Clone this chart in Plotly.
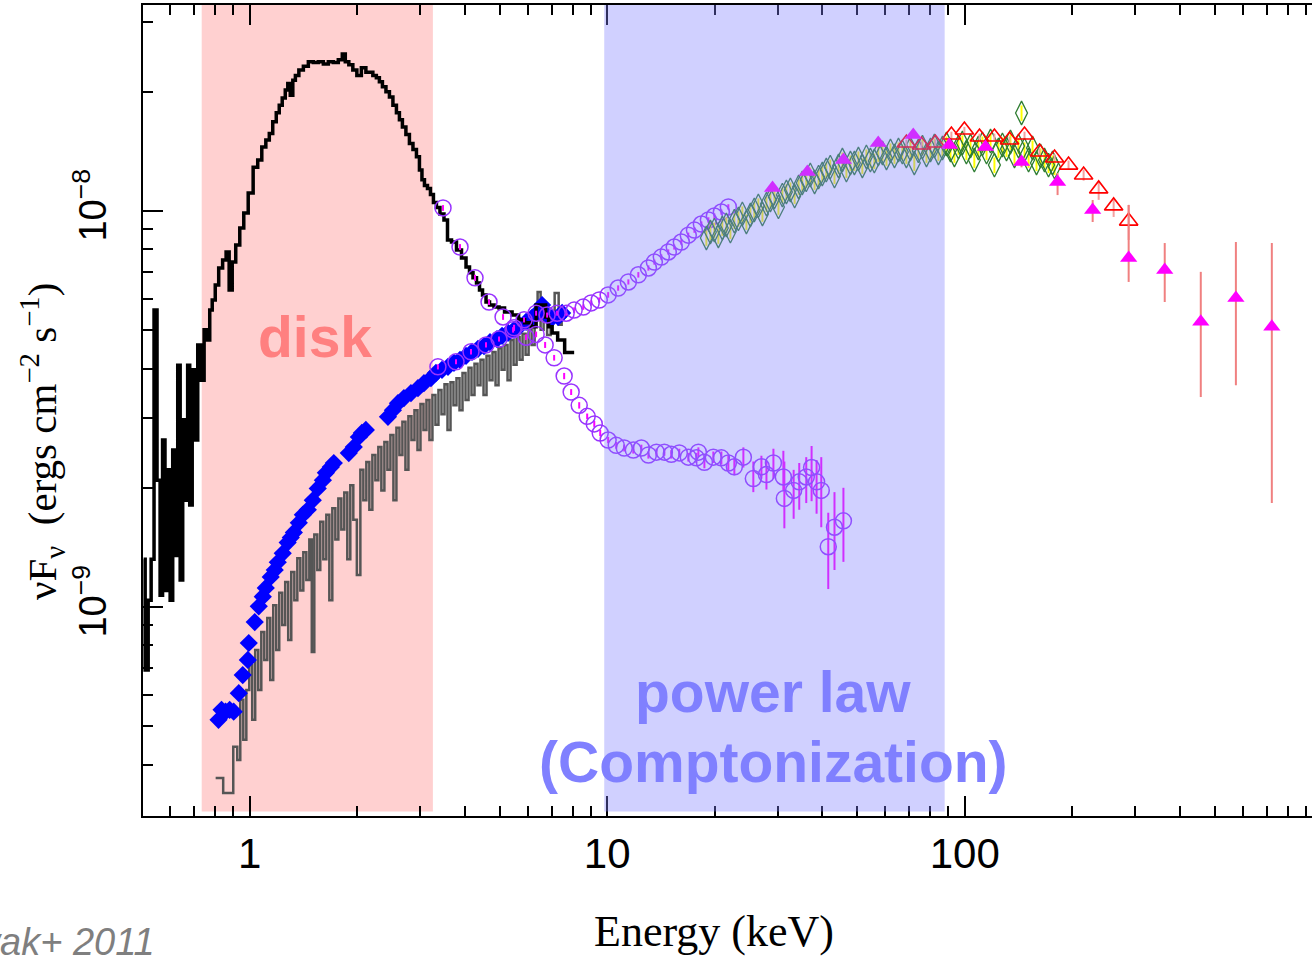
import plotly.graph_objects as go

SCALE = 1e-9  # flux lists are in units of 1e-9 ergs cm^-2 s^-1

# ---------------- soft state, low energy (black histogram) ----------------
soft_lo_E = [0.505, 0.515, 0.525, 0.535, 0.545, 0.556, 0.567, 0.574, 0.585, 0.593,
             0.605, 0.613, 0.625, 0.633, 0.645, 0.654, 0.666, 0.675, 0.684, 0.697,
             0.711, 0.720, 0.738, 0.753, 0.768, 0.778, 0.793, 0.809, 0.829, 0.851,
             0.867, 0.885, 0.902, 0.926, 0.950, 0.975, 1.006, 1.039, 1.067, 1.095,
             1.124, 1.145, 1.175, 1.198, 1.221, 1.245, 1.270, 1.286, 1.311, 1.329,
             1.355, 1.390, 1.436, 1.482, 1.531, 1.581, 1.633, 1.686, 1.741, 1.798,
             1.833, 1.869, 1.918, 1.968, 2.020, 2.086, 2.141, 2.182, 2.239, 2.283,
             2.328, 2.374, 2.436, 2.483, 2.548, 2.598, 2.648, 2.700, 2.770, 2.825,
             2.899, 2.955, 3.013, 3.052, 3.112, 3.173, 3.234, 3.297, 3.361, 3.450,
             3.540, 3.610, 3.727, 3.850, 3.976, 4.080, 4.159, 4.268, 4.351, 4.436,
             4.523, 4.641, 4.732, 4.918, 5.047, 5.280, 5.561, 5.742, 6.007, 6.245,
             6.408, 6.661, 6.792, 6.924, 7.105, 7.433, 7.776, 8.083]
soft_lo_F = [1.32, 0.693, 1.04, 1.32, 5.62, 2.09, 1.07, 2.64, 1.10, 2.22,
             1.04, 2.49, 1.35, 4.08, 1.17, 2.97, 1.86, 4.08, 1.81, 3.97,
             2.64, 4.59, 3.74, 5.01, 4.72, 5.62, 5.96, 6.50, 7.18, 7.52,
             7.88, 6.32, 7.43, 8.21, 9.06, 9.88, 11.1, 12.9, 13.45, 14.5,
             15.1, 15.7, 16.8, 17.7, 18.5, 19.3, 20.2, 21.0, 19.6, 21.4,
             22.0, 22.7, 23.2, 23.8, 23.7, 23.8, 23.5, 23.8, 23.7, 24.1,
             24.9, 23.8, 23.4, 22.7, 22.0, 23.0, 22.4, 22.4, 22.0, 21.7,
             21.2, 20.6, 20.0, 19.4, 18.5, 17.7, 17.0, 16.3, 15.6, 14.8,
             14.3, 13.7, 12.7, 12.0, 11.6, 11.4, 11.0, 10.5, 10.2, 9.83,
             9.49, 8.45, 8.35, 7.97, 7.61, 7.22, 6.98, 6.78, 6.58, 6.32,
             6.14, 5.89, 5.79, 5.72, 5.69, 5.56, 5.46, 5.31, 5.22, 5.10,
             5.79, 5.79, 5.40, 5.10, 4.92, 4.72, 4.39, 4.39]

# ---------------- hard state, low energy (grey histogram) ----------------
hard_lo_E = [0.803, 0.885, 0.914, 0.932, 0.950, 0.969, 0.988, 1.0065, 1.026, 1.046,
             1.067, 1.088, 1.109, 1.131, 1.152, 1.175, 1.198, 1.221, 1.245, 1.269,
             1.294, 1.320, 1.346, 1.372, 1.399, 1.426, 1.454, 1.482, 1.501, 1.531,
             1.560, 1.591, 1.622, 1.654, 1.686, 1.719, 1.753, 1.787, 1.821, 1.857,
             1.893, 1.930, 1.968, 2.020, 2.059, 2.099, 2.140, 2.182, 2.225, 2.268,
             2.312, 2.358, 2.404, 2.451, 2.499, 2.548, 2.598, 2.648, 2.700, 2.753,
             2.806, 2.862, 2.918, 2.975, 3.033, 3.092, 3.152, 3.213, 3.276, 3.340,
             3.405, 3.473, 3.540, 3.610, 3.680, 3.751, 3.825, 3.900, 3.976, 4.054,
             4.133, 4.213, 4.295, 4.379, 4.465, 4.552, 4.641, 4.732, 4.824, 4.919,
             5.015, 5.113, 5.212, 5.314, 5.419, 5.525, 5.633, 5.742, 5.854, 5.969,
             6.085, 6.205, 6.326, 6.450, 6.575, 6.704, 6.879, 7.014, 7.244, 7.386,
             7.530]
hard_lo_F = [0.370, 0.339, 0.444, 0.411, 0.583, 0.462, 0.617, 0.714, 0.519, 0.779,
             0.617, 0.865, 0.735, 0.938, 0.654, 1.010, 0.779, 1.087, 0.900, 1.156,
             0.825, 1.226, 1.04, 1.327, 1.10, 1.374, 1.17, 1.48, 0.770, 1.525,
             1.24, 1.641, 1.32, 1.709, 1.04, 1.775, 1.48, 1.880, 1.57, 1.947,
             1.32, 2.030, 1.66, 1.204, 2.22, 1.86, 2.323, 1.76, 2.419, 2.09,
             2.535, 1.97, 2.609, 2.22, 2.720, 1.86, 2.835, 2.419, 2.936, 2.22,
             3.032, 2.64, 3.14, 2.49, 3.254, 2.80, 3.33, 2.64, 3.429, 2.885,
             3.53, 3.068, 3.654, 2.80, 3.697, 3.234, 3.784, 3.14, 3.901, 3.33,
             4.017, 3.429, 4.113, 3.633, 4.21, 3.429, 4.307, 3.74, 4.408, 3.633,
             4.505, 3.97, 4.585, 3.74, 4.72, 4.089, 4.803, 4.21, 4.895, 4.332,
             5.01, 4.585, 5.31, 6.247, 5.01, 5.459, 4.866, 5.372, 6.211, 5.158,
             5.372]

# ---------------- hard state, unfolded low energy (blue diamonds) ----------------
blue_E = [0.818, 0.834, 0.856, 0.879, 0.902, 0.932, 0.956, 0.988, 0.994, 1.033,
          1.060, 1.088, 1.109, 1.145, 1.175, 1.198, 1.237, 1.277, 1.303, 1.329,
          1.372, 1.408, 1.454, 1.501, 1.550, 1.602, 1.633, 1.686, 1.719, 1.893,
          1.955, 2.020, 2.059, 2.113, 2.436, 2.515, 2.598, 2.700, 2.825, 2.955,
          3.072, 3.213, 3.318, 3.450, 3.586, 3.727, 3.875, 4.028, 4.186, 4.351,
          4.523, 4.701, 4.918, 5.080, 5.280, 5.489, 5.705, 5.930, 6.165, 6.408,
          6.575, 6.792, 7.014, 7.291, 7.481]
blue_F = [0.519, 0.550, 0.544, 0.550, 0.544, 0.606, 0.673, 0.735, 0.811, 0.916,
          1.004, 1.062, 1.117, 1.191, 1.24, 1.297, 1.366, 1.454, 1.497, 1.543,
          1.631, 1.709, 1.76, 1.86, 1.993, 2.09, 2.182, 2.256, 2.309, 2.447,
          2.535, 2.687, 2.752, 2.80, 3.022, 3.14, 3.272, 3.369, 3.469, 3.570,
          3.675, 3.784, 3.901, 3.97, 4.040, 4.137, 4.21, 4.307, 4.408, 4.486,
          4.558, 4.665, 4.748, 4.838, 4.923, 5.01, 5.128, 5.248, 5.372, 5.555,
          5.789, 5.459, 5.372, 5.40, 5.53]

# ---------------- soft state, high energy (purple circles) ----------------
soft_hi_E = [3.473, 3.875, 4.268, 4.671, 5.113, 5.489, 5.930, 6.326, 6.704, 7.105,
             7.578, 7.928, 8.35, 8.79, 9.20, 9.56, 10.06, 10.60, 11.16, 11.83,
             12.46, 13.04, 13.73, 14.45, 15.11, 15.91, 16.86, 17.76, 17.99, 18.70,
             19.81, 20.86, 21.82, 22.68, 24.04, 25.63, 27.0, 27.89, 29.17, 31.10,
             31.30, 33.23, 34.45, 36.04, 37.3, 38.52, 39.7, 41.53, 43.23, 45.79]
soft_hi_F = [10.18, 8.11, 6.78, 5.89, 5.40, 5.07, 4.80, 4.88, 4.59, 4.26,
             3.83, 3.49, 3.23, 3.03, 2.90, 2.75, 2.64, 2.56, 2.52, 2.49,
             2.52, 2.42, 2.46, 2.46, 2.43, 2.45, 2.39, 2.38, 2.46, 2.32,
             2.39, 2.38, 2.31, 2.26, 2.39, 2.11, 2.26, 2.16, 2.31, 2.13,
             1.88, 1.97, 2.07, 2.13, 2.25, 2.07, 1.97, 1.42, 1.59, 1.65]
soft_hi_errp = [0.17, 0.14, 0.12, 0.10, 0.09, 0.09, 0.08, 0.08, 0.08, 0.07,
                0.07, 0.06, 0.06, 0.05, 0.05, 0.05, 0.05, 0.05, 0.05, 0.05,
                0.05, 0.05, 0.05, 0.05, 0.06, 0.06, 0.06, 0.07, 0.07, 0.08,
                0.08, 0.09, 0.10, 0.11, 0.14, 0.22, 0.15, 0.18, 0.20, 0.35,
                0.45, 0.25, 0.24, 0.26, 0.30, 0.28, 0.42, 0.31, 0.36, 0.35]
soft_hi_errm = [0.17, 0.14, 0.12, 0.10, 0.09, 0.09, 0.08, 0.08, 0.08, 0.07,
                0.07, 0.06, 0.06, 0.05, 0.05, 0.05, 0.05, 0.05, 0.05, 0.05,
                0.05, 0.05, 0.05, 0.05, 0.06, 0.06, 0.06, 0.07, 0.07, 0.08,
                0.08, 0.09, 0.10, 0.11, 0.14, 0.16, 0.15, 0.18, 0.20, 0.16,
                0.30, 0.30, 0.31, 0.30, 0.40, 0.35, 0.38, 0.31, 0.35, 0.35]

# ---------------- hard state, mid energy (purple circles) ----------------
hard_mid_E = [3.361, 3.776, 4.159, 4.581, 4.982, 5.454, 5.854, 6.326, 6.792, 7.244,
              7.677, 8.083, 8.57, 9.02, 9.50, 10.06, 10.73, 11.46, 12.22, 13.04,
              13.55, 14.17, 14.82, 15.40, 16.12, 16.86, 17.54, 18.34, 19.19, 19.94,
              20.86, 21.82]
hard_mid_F = [4.04, 4.16, 4.41, 4.59, 4.75, 5.01, 5.31, 5.52, 5.46, 5.52,
              5.52, 5.62, 5.72, 5.86, 5.96, 6.14, 6.39, 6.62, 6.90, 7.18,
              7.43, 7.65, 7.88, 8.11, 8.35, 8.69, 8.95, 9.27, 9.49, 9.71,
              9.94, 10.24]
hard_mid_err = [0.06, 0.06, 0.07, 0.07, 0.07, 0.08, 0.08, 0.08, 0.08, 0.08,
                0.08, 0.09, 0.09, 0.09, 0.09, 0.10, 0.10, 0.10, 0.11, 0.11,
                0.11, 0.12, 0.12, 0.12, 0.13, 0.13, 0.14, 0.14, 0.15, 0.15,
                0.15, 0.16]

# ---------------- hard state, hard X-ray (green open diamonds) ----------------
green_E = [18.94, 19.44, 19.94, 20.46, 20.99, 21.54, 22.11, 22.68, 23.28, 23.88,
           24.51, 25.15, 25.79, 26.47, 27.18, 27.89, 28.61, 29.36, 30.13, 30.90,
           31.71, 32.54, 33.44, 34.31, 35.13, 36.04, 36.99, 38.03, 39.02, 39.96,
           41.00, 42.07, 43.23, 44.36, 45.49, 46.68, 47.90, 49.14, 50.43, 51.73,
           53.09, 54.47, 55.87, 57.33, 58.88, 60.42, 62.00, 63.62, 65.28, 66.93,
           68.68, 70.48, 72.28, 74.18, 76.19, 78.18, 80.23, 82.27, 84.43, 86.66,
           88.92, 91.25, 93.59, 96.04, 98.54, 101.1, 103.8, 106.4, 109.2, 112.1,
           115.1, 118.1, 121.1, 124.3, 127.5, 130.9, 134.3, 137.8, 141.4, 144.2,
           147.0, 150.9, 154.8, 158.8, 163.0, 167.2, 171.6, 176.1, 178.4]
green_F = [8.55, 8.85, 8.95, 8.65, 9.06, 9.22, 8.90, 9.43, 9.55, 9.83,
           9.38, 9.77, 10.06, 10.30, 9.83, 10.41, 10.66, 10.85, 10.24, 10.97,
           11.17, 11.30, 10.91, 11.50, 11.77, 11.98, 12.33, 11.84, 12.18, 12.40,
           12.69, 12.91, 12.25, 12.99, 13.45, 12.69, 13.22, 13.22, 13.53, 12.99,
           13.69, 13.45, 13.37, 13.93, 14.01, 13.61, 14.18, 13.77, 14.26, 14.09,
           13.77, 14.34, 13.22, 14.18, 14.50, 13.85, 14.26, 14.59, 14.01, 14.42,
           14.76, 14.26, 13.85, 14.50, 14.85, 14.09, 14.59, 13.45, 14.42, 14.76,
           14.09, 15.02, 13.06, 14.26, 14.68, 14.34, 14.94, 13.77, 14.59, 17.68,
           14.26, 13.45, 14.42, 13.22, 13.77, 13.45, 13.06, 13.22, 12.91]

# ---------------- hard state (red open triangles) ----------------
red_E = [68.7, 75.7, 82.8, 91.8, 99.8, 110.0, 121.1, 133.5, 147.0, 161.9,
         178.4, 195.2, 215.1, 237.0, 261.0, 287.5]
red_F = [14.85, 14.68, 14.85, 15.56, 16.01, 15.38, 15.38, 15.11, 15.56, 14.09,
         13.61, 13.06, 12.33, 11.37, 10.30, 9.43]
red_errp = [0.3, 0.3, 0.3, 0.3, 0.3, 0.3, 0.3, 0.3, 0.3, 0.3,
            0.3, 0.35, 0.4, 0.5, 0.36, 0.93]
red_errm = [0.3, 0.3, 0.3, 0.3, 0.3, 0.3, 0.3, 0.3, 0.3, 0.3,
            0.3, 0.35, 0.4, 0.7, 0.64, 0.98]

# ---------------- hard state (magenta filled triangles) ----------------
mag_E = [29.0, 36.3, 45.8, 57.3, 71.8, 90.6, 114.3, 144.2, 181.9, 228.0,
         287.5, 362.7, 457.5, 573.6, 723.0]
mag_F = [11.43, 12.54, 13.45, 14.85, 15.56, 14.68, 14.50, 13.29, 11.84, 10.06,
         7.61, 7.10, 5.25, 6.03, 5.10]
mag_errp = [0.2, 0.2, 0.2, 0.2, 0.2, 0.2, 0.25, 0.3, 0.63, 0.6,
            2.75, 1.20, 1.77, 2.32, 3.2]
mag_errm = [0.2, 0.2, 0.2, 0.2, 0.2, 0.2, 0.25, 0.4, 0.87, 0.68,
            0.99, 1.21, 1.86, 2.40, 3.27]

# ---------------- axis ticks ----------------
x_major = [1, 10, 100]
x_major_text = ["1", "10", "100"]
x_minor = [0.6, 0.7, 0.8, 0.9, 2, 3, 4, 5, 6, 7, 8, 9,
           20, 30, 40, 50, 60, 70, 80, 90, 200, 300, 400, 500, 600, 700, 800, 900]
y_major = [1e-9, 1e-8]
y_major_text = ["10<sup>\u22129</sup>", "10<sup>\u22128</sup>"]
y_minor = [4e-10, 5e-10, 6e-10, 7e-10, 8e-10, 9e-10,
           2e-9, 3e-9, 4e-9, 5e-9, 6e-9, 7e-9, 8e-9, 9e-9, 2e-8, 3e-8]

# shaded energy bands (keV)
disk_band = [0.734, 3.254]
pl_band = [9.81, 87.9]


def sc(v):
    return [a * SCALE for a in v]


fig = go.Figure()

fig.add_trace(go.Scatter(x=hard_lo_E, y=sc(hard_lo_F), mode="lines",
                         line=dict(color="#555555", width=2.5, shape="hvh")))
fig.add_trace(go.Scatter(x=blue_E, y=sc(blue_F), mode="markers",
                         marker=dict(symbol="diamond", size=14, color="#0000FF",
                                     line=dict(width=0))))
fig.add_trace(go.Scatter(x=soft_lo_E, y=sc(soft_lo_F), mode="lines",
                         line=dict(color="#000000", width=3.5, shape="hvh")))
fig.add_trace(go.Scatter(x=hard_mid_E, y=sc(hard_mid_F), mode="markers",
                         marker=dict(symbol="circle-open", size=16, color="#9933FF",
                                     line=dict(width=1.5, color="#9933FF")),
                         error_y=dict(type="data", array=sc(hard_mid_err), color="#FF00FF",
                                      thickness=2, width=0)))
fig.add_trace(go.Scatter(x=soft_hi_E, y=sc(soft_hi_F), mode="markers",
                         marker=dict(symbol="circle-open", size=16, color="#9933FF",
                                     line=dict(width=1.5, color="#9933FF")),
                         error_y=dict(type="data", array=sc(soft_hi_errp),
                                      arrayminus=sc(soft_hi_errm), color="#FF00FF",
                                      thickness=2, width=0)))
fig.add_trace(go.Scatter(x=green_E, y=sc(green_F), mode="markers",
                         marker=dict(symbol="diamond-tall-open", size=17, color="#2E7D32",
                                     line=dict(width=1.3, color="#2E7D32")),
                         error_y=dict(type="percent", value=4.5, color="#FFFF00",
                                      thickness=2, width=0)))
fig.add_trace(go.Scatter(x=red_E, y=sc(red_F), mode="markers",
                         marker=dict(symbol="triangle-up-open", size=16, color="#FF0000",
                                     line=dict(width=1.6, color="#FF0000")),
                         error_y=dict(type="data", array=sc(red_errp), arrayminus=sc(red_errm),
                                      color="#F4A0A0", thickness=2, width=0)))
fig.add_trace(go.Scatter(x=mag_E, y=sc(mag_F), mode="markers",
                         marker=dict(symbol="triangle-up", size=15, color="#FF00FF",
                                     line=dict(width=0)),
                         error_y=dict(type="data", array=sc(mag_errp), arrayminus=sc(mag_errm),
                                      color="#F08080", thickness=2, width=0)))

# Shaded bands
fig.add_shape(type="rect", xref="x", yref="paper", x0=disk_band[0], x1=disk_band[1],
              y0=0.0055, y1=1, fillcolor="rgba(255,128,128,0.37)", line=dict(width=0),
              layer="below")
fig.add_shape(type="rect", xref="x", yref="paper", x0=pl_band[0], x1=pl_band[1],
              y0=0.0055, y1=1, fillcolor="rgba(128,128,255,0.37)", line=dict(width=0),
              layer="above")

PW, PH, L, B = 1169, 811, 143, 816


def px(xp):
    return (xp - L) / PW


def py(yp):
    return (B - yp) / PH


annos = [
    dict(text="<b>disk</b>", x=px(315), y=py(337), font=dict(family="Liberation Sans", size=57, color="#FF8080")),
    dict(text="<b>power law</b>", x=px(773), y=py(692), font=dict(family="Liberation Sans", size=57, color="#8080FF")),
    dict(text="<b>(Comptonization)</b>", x=px(773), y=py(762), font=dict(family="Liberation Sans", size=57, color="#8080FF")),
    dict(text="Energy (keV)", x=px(714), y=py(932), font=dict(family="Liberation Serif", size=44, color="black")),
    dict(text="\u03bdF<sub>\u03bd</sub>\u00a0\u00a0(ergs cm<sup>\u22122</sup> s<sup>\u22121</sup>)",
         x=px(42), y=py(442), textangle=-90, font=dict(family="Liberation Serif", size=41, color="black")),
]
for a in annos:
    fig.add_annotation(xref="paper", yref="paper", showarrow=False,
                       xanchor="center", yanchor="middle", **a)
fig.add_annotation(text="<i>Nowak+ 2011</i>", xref="paper", yref="paper", x=px(157), y=py(942),
                   xanchor="right", yanchor="middle", showarrow=False,
                   font=dict(family="Liberation Sans", size=38, color="#7F7F7F"))

axis_common = dict(showline=True, linecolor="black", linewidth=2, ticks="inside",
                   tickwidth=2, tickcolor="black", ticklen=20, showgrid=False, zeroline=False)

fig.update_xaxes(type="log", range=[-0.2985, 2.9715], mirror="ticks",
                 tickmode="array", tickvals=x_major, ticktext=x_major_text,
                 tickfont=dict(family="Liberation Sans", size=42, color="black"),
                 ticklabelstandoff=0,
                 minor=dict(tickmode="array", tickvals=x_minor, ticks="inside", ticklen=10,
                            tickwidth=2, tickcolor="black", showgrid=False),
                 **axis_common)
fig.update_yaxes(type="log", range=[-9.5278, -7.4798], mirror=False,
                 tickmode="array", tickvals=y_major, ticktext=y_major_text, tickangle=-90,
                 tickfont=dict(family="Liberation Sans", size=38, color="black"),
                 ticklabelstandoff=20,
                 minor=dict(tickmode="array", tickvals=y_minor, ticks="inside", ticklen=10,
                            tickwidth=2, tickcolor="black", showgrid=False),
                 **axis_common)

fig.update_layout(width=1312, height=958, margin=dict(l=143, r=0, t=5, b=142),
                  paper_bgcolor="white", plot_bgcolor="white", showlegend=False)

fig.write_html("out.html")
